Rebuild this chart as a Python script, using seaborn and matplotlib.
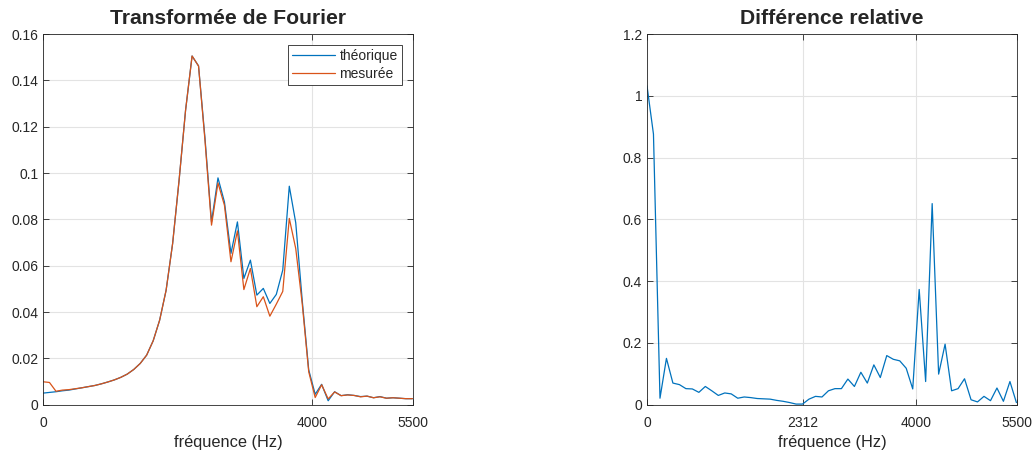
import matplotlib
matplotlib.use("Agg")
import matplotlib.pyplot as plt
import matplotlib.ticker as mticker
import seaborn as sns
import pandas as pd

sns.set_theme(style="ticks")
plt.rcParams["font.family"] = ["Liberation Sans", "DejaVu Sans"]

# fréquences des raies (Hz)
FREQUENCES = [0, 96, 193, 289, 385, 482, 578, 674, 771, 867, 963, 1060, 1156, 1252,
              1349, 1445, 1541, 1638, 1734, 1830, 1927, 2023, 2119, 2216, 2312, 2408,
              2505, 2601, 2697, 2794, 2890, 2986, 3083, 3179, 3275, 3372, 3468, 3564,
              3661, 3757, 3853, 3950, 4046, 4142, 4239, 4335, 4431, 4528, 4624, 4720,
              4817, 4913, 5009, 5106, 5202, 5298, 5395, 5491]

THEORIQUE = [0.0050, 0.0053, 0.0056, 0.0060, 0.0063, 0.0068, 0.0073, 0.0078, 0.0083, 0.0090,
             0.0098, 0.0107, 0.0118, 0.0132, 0.0152, 0.0178, 0.0214, 0.0276, 0.0365, 0.0494,
             0.0696, 0.0969, 0.1270, 0.1505, 0.1462, 0.1150, 0.0789, 0.0979, 0.0875, 0.0653,
             0.0789, 0.0545, 0.0624, 0.0473, 0.0502, 0.0437, 0.0476, 0.0581, 0.0943, 0.0785,
             0.0451, 0.0150, 0.0045, 0.0088, 0.0017, 0.0056, 0.0039, 0.0043, 0.0040, 0.0035,
             0.0037, 0.0030, 0.0035, 0.0028, 0.0030, 0.0028, 0.0026, 0.0026]

MESUREE = [0.0099, 0.0096, 0.0058, 0.0063, 0.0065, 0.0069, 0.0073, 0.0078, 0.0083, 0.0090,
           0.0098, 0.0107, 0.0118, 0.0132, 0.0152, 0.0178, 0.0214, 0.0276, 0.0365, 0.0494,
           0.0696, 0.0969, 0.1270, 0.1505, 0.1462, 0.1140, 0.0775, 0.0957, 0.0861, 0.0617,
           0.0750, 0.0497, 0.0588, 0.0423, 0.0466, 0.0382, 0.0434, 0.0489, 0.0804, 0.0674,
           0.0437, 0.0142, 0.0031, 0.0086, 0.0025, 0.0055, 0.0039, 0.0042, 0.0040, 0.0034,
           0.0037, 0.0030, 0.0034, 0.0028, 0.0030, 0.0028, 0.0026, 0.0026]

DIFF_RELATIVE = [1.032, 0.876, 0.021, 0.150, 0.070, 0.065, 0.052, 0.051, 0.040, 0.059,
                 0.045, 0.030, 0.038, 0.035, 0.021, 0.025, 0.023, 0.020, 0.019, 0.018,
                 0.014, 0.011, 0.007, 0.002, 0.002, 0.018, 0.027, 0.025, 0.045, 0.052,
                 0.052, 0.083, 0.059, 0.105, 0.070, 0.129, 0.088, 0.159, 0.147, 0.142,
                 0.118, 0.051, 0.373, 0.075, 0.651, 0.099, 0.196, 0.045, 0.052, 0.084,
                 0.016, 0.009, 0.027, 0.013, 0.054, 0.011, 0.075, 0.007]

TICKS_X_GAUCHE = [0, 4000, 5500]
TICKS_X_DROITE = [0, 2312, 4000, 5500]
TICKS_Y_GAUCHE = [0, 0.02, 0.04, 0.06, 0.08, 0.1, 0.12, 0.14, 0.16]
TICKS_Y_DROITE = [0, 0.2, 0.4, 0.6, 0.8, 1, 1.2]

BLEU = "#0072BD"
ORANGE = "#D95319"
GRIS = "#262626"


def style_axes(ax, xticks, yticks):
    ax.set_xlim(0, 5500)
    ax.set_ylim(yticks[0], yticks[-1])
    ax.set_xticks(xticks)
    ax.set_yticks(yticks)
    ax.yaxis.set_major_formatter(mticker.FuncFormatter(lambda v, p: f"{v:g}"))
    ax.tick_params(direction="in", top=True, right=True, length=4, width=0.6,
                   colors=GRIS, labelsize=10, labelcolor=GRIS)
    ax.tick_params(axis="x", pad=8)
    ax.grid(True, color="#e3e3e3", linewidth=0.8)
    ax.set_axisbelow(True)
    for sp in ax.spines.values():
        sp.set_visible(True)
        sp.set_color(GRIS)
        sp.set_linewidth(0.6)
    ax.set_xlabel("fréquence (Hz)", fontsize=11.8, color=GRIS, labelpad=4)
    ax.set_ylabel("")


df = pd.DataFrame({"f": FREQUENCES, "theorique": THEORIQUE,
                   "mesuree": MESUREE, "diff": DIFF_RELATIVE})

fig = plt.figure(figsize=(10.36, 4.53), dpi=100)
ax1 = fig.add_axes([43 / 1036, 48.3 / 453, 370 / 1036, 370.7 / 453])
ax2 = fig.add_axes([647 / 1036, 48.3 / 453, 370 / 1036, 370.7 / 453])

# ── Transformée de Fourier ──
sns.lineplot(data=df, x="f", y="theorique", ax=ax1, color=BLEU, linewidth=0.9,
             label="théorique")
sns.lineplot(data=df, x="f", y="mesuree", ax=ax1, color=ORANGE, linewidth=0.9,
             label="mesurée")
style_axes(ax1, TICKS_X_GAUCHE, TICKS_Y_GAUCHE)
ax1.set_title("Transformée de Fourier", fontsize=15.2, fontweight="bold", pad=7)
leg = ax1.legend(loc="upper right", fontsize=10, handlelength=3.1, handletextpad=0.3,
                 borderpad=0.3, labelspacing=0.25, borderaxespad=0.8,
                 fancybox=False, framealpha=1)
leg.get_frame().set_edgecolor(GRIS)
leg.get_frame().set_linewidth(0.6)

# ── Différence relative ──
sns.lineplot(data=df, x="f", y="diff", ax=ax2, color=BLEU, linewidth=0.9)
style_axes(ax2, TICKS_X_DROITE, TICKS_Y_DROITE)
ax2.set_title("Différence relative", fontsize=15.2, fontweight="bold", pad=7)

fig.savefig("out.png", dpi=100)
